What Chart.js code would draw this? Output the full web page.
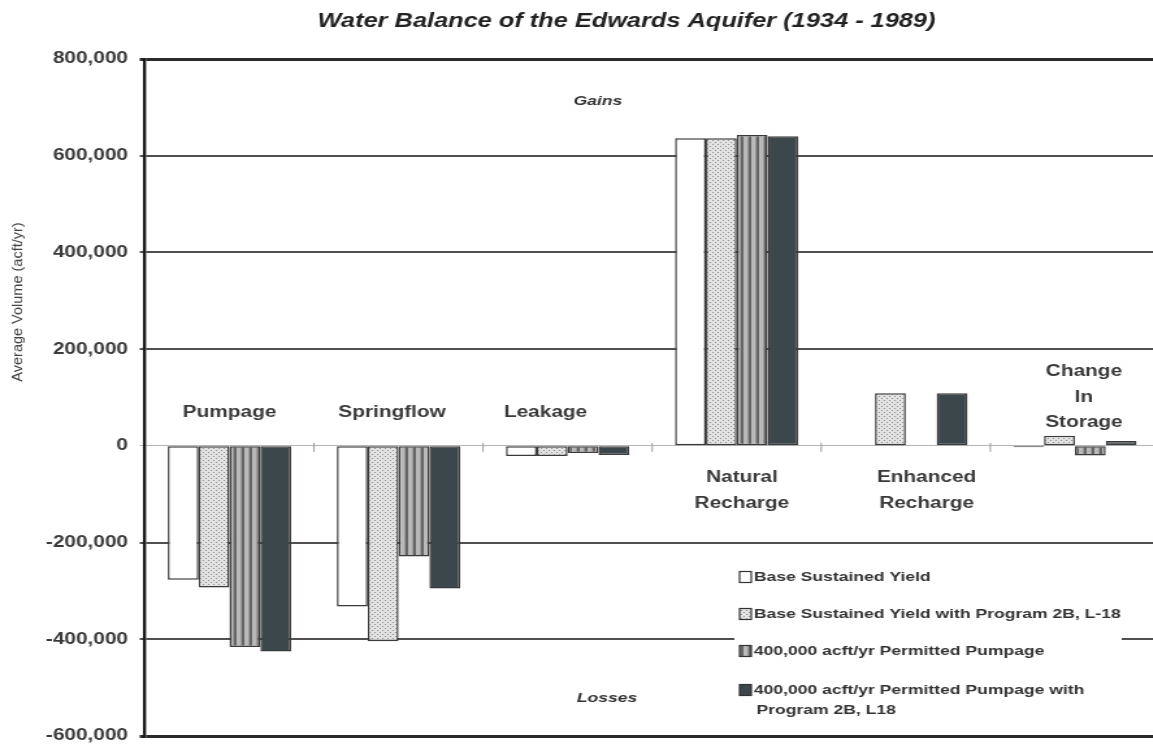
<!DOCTYPE html>
<html>
<head>
<meta charset="utf-8">
<title>Water Balance of the Edwards Aquifer (1934 - 1989)</title>
<script src="https://cdn.jsdelivr.net/npm/chart.js@4.4.1/dist/chart.umd.min.js"></script>
<style>
    html, body { margin: 0; padding: 0; overflow: hidden; background: #fff; }
    canvas { display: block; }
</style>
</head>
<body>
<!-- the source picture is stretched sideways, so the canvas is drawn narrow and widened by CSS -->
<canvas id="chart" width="894" height="747" style="width:1162px;height:747px"></canvas>
<script>
// Data (acre-feet per year)
const categories = [['Pumpage'], ['Springflow'], ['Leakage'], ['Natural', 'Recharge'], ['Enhanced', 'Recharge'], ['Change', 'In', 'Storage']];
const seriesNames = [
    'Base Sustained Yield',
    'Base Sustained Yield with Program 2B, L-18',
    '400,000 acft/yr Permitted Pumpage',
    '400,000 acft/yr Permitted Pumpage with Program 2B, L18'
];
const baseYield      = [-277000, -332000, -21000, 636000, 0,      -3000];
const baseYield2B    = [-293000, -404000, -21000, 636000, 109000, 21000];
const permitted      = [-416000, -229000, -15000, 643000, 0,      -20000];
const permitted2B    = [-425000, -295000, -19000, 640000, 109000, 10000];
const yTicks = [-600000, -400000, -200000, 0, 200000, 400000, 600000, 800000];
const legendLines = [['Base Sustained Yield'], ['Base Sustained Yield with Program 2B, L-18'],
    ['400,000 acft/yr Permitted Pumpage'], ['400,000 acft/yr Permitted Pumpage with', 'Program 2B, L18']];

// layout helpers
const SX = 1162 / 894;
const FONT = '"Liberation Sans", Arial, sans-serif';
const labelDx = [0, -5, -17, 4, 16, 7];
const labelDy = [-33, -33, -33, 32, 32, -74];
const legendRows = [577, 614, 651, 690];

const canvas = document.getElementById('chart');
const ctx2d = canvas.getContext('2d');

function makePattern(w, h, paint) {
    const c = document.createElement('canvas');
    c.width = w; c.height = h;
    paint(c.getContext('2d'));
    return ctx2d.createPattern(c, 'repeat');
}

const dotted = makePattern(4, 4, g => {
    g.fillStyle = '#e2e2e2'; g.fillRect(0, 0, 4, 4);
    g.fillStyle = '#8e8e8e'; g.fillRect(0, 0, 1, 1); g.fillRect(2, 2, 1, 1);
});
const striped = makePattern(6, 2, g => {
    g.fillStyle = '#b9b9b9'; g.fillRect(0, 0, 6, 2);
    g.fillStyle = '#666'; g.fillRect(0, 0, 2, 2);
    g.fillStyle = '#999'; g.fillRect(5, 0, 1, 2);
});
const fills = ['#ffffff', dotted, striped, '#3c474b'];

function drawText(ctx, str, x, y, font, align, color) {
    ctx.font = font;
    ctx.textAlign = align || 'center';
    ctx.textBaseline = 'middle';
    ctx.fillStyle = color || '#333';
    ctx.fillText(str, x, y);
}

const decorations = {
    id: 'decorations',
    afterDraw(chart) {
        const ctx = chart.ctx;
        const xs = chart.scales.x, ys = chart.scales.y;
        const y0 = ys.getPixelForValue(0);
        ctx.save();

        // little ticks on the zero line between categories
        ctx.strokeStyle = '#9a9a9a';
        ctx.lineWidth = 1;
        for (let i = 1; i < categories.length; i++) {
            const bx = (xs.getPixelForValue(i - 1) + xs.getPixelForValue(i)) / 2;
            ctx.beginPath(); ctx.moveTo(bx, y0 - 3); ctx.lineTo(bx, y0 + 6); ctx.stroke();
        }

        // title
        drawText(ctx, 'Water Balance of the Edwards Aquifer (1934 - 1989)', 482, 22, 'italic bold 19.5px ' + FONT, 'center', '#222');

        // y axis title (not stretched in the source)
        ctx.save();
        ctx.translate(14, 302);
        ctx.scale(1 / SX, 1);
        ctx.rotate(-Math.PI / 2);
        drawText(ctx, 'Average Volume (acft/yr)', 0, 0, '14.5px ' + FONT, 'center', '#444');
        ctx.restore();

        // category names inside the plot
        categories.forEach((lines, i) => {
            const cx = xs.getPixelForValue(i) + labelDx[i];
            lines.forEach((ln, k) => {
                drawText(ctx, ln, cx, y0 + labelDy[i] + k * 25.5, 'bold 16px ' + FONT, 'center', '#3a3a3a');
            });
        });

        drawText(ctx, 'Gains', 460, ys.getPixelForValue(713000), 'italic bold 13.5px ' + FONT, 'center', '#333');
        drawText(ctx, 'Losses', 467, ys.getPixelForValue(-523000), 'italic bold 13.5px ' + FONT, 'center', '#333');

        // legend box
        ctx.fillStyle = '#fff';
        ctx.fillRect(565, 557, 298, 168);
        chart.data.datasets.forEach((ds, i) => {
            const ry = legendRows[i];
            ctx.fillStyle = ds.backgroundColor;
            ctx.fillRect(569, ry - 5.5, 9, 11);
            ctx.strokeStyle = '#333';
            ctx.lineWidth = 1.2;
            ctx.strokeRect(569, ry - 5.5, 9, 11);
            legendLines[i].forEach((ln, k) => {
                drawText(ctx, ln, k === 0 ? 580 : 582, ry + k * 20, 'bold 13.5px ' + FONT, 'left', '#333');
            });
        });
        ctx.restore();
    }
};

function gridColor(c) {
    const v = c.tick.value;
    if (v === 0) return '#b5b5b5';
    if (v === yTicks[0] || v === yTicks[yTicks.length - 1]) return '#2a2a2a';
    return '#505050';
}
function gridWidth(c) {
    const v = c.tick.value;
    if (v === 0) return 1;
    if (v === yTicks[0] || v === yTicks[yTicks.length - 1]) return 3;
    return 2;
}

new Chart(canvas, {
    type: 'bar',
    data: {
        labels: categories,
        datasets: [baseYield, baseYield2B, permitted, permitted2B].map((vals, i) => ({
            label: seriesNames[i],
            data: vals,
            backgroundColor: fills[i],
            borderColor: '#3a3a3a',
            borderWidth: 1.5,
            borderSkipped: false,
            categoryPercentage: 0.73,
            barPercentage: 1.0
        }))
    },
    options: {
        responsive: false,
        animation: false,
        devicePixelRatio: 1,
        layout: {padding: {top: 59, bottom: 11, left: 0, right: 2}},
        plugins: {
            legend: {display: false},
            title: {display: false},
            tooltip: {enabled: false}
        },
        scales: {
            x: {display: false},
            y: {
                min: yTicks[0],
                max: yTicks[yTicks.length - 1],
                afterBuildTicks: scale => { scale.ticks = yTicks.map(v => ({value: v})); },
                afterFit: scale => {
                    scale.width = 111.5;
                    scale.paddingTop = 0;
                    scale.paddingBottom = 0;
                },
                ticks: {
                    padding: 9,
                    color: '#3a3a3a',
                    font: {family: FONT, size: 16, weight: 'bold'},
                    callback: v => v.toLocaleString('en-US')
                },
                grid: {color: gridColor, lineWidth: gridWidth, tickLength: 4},
                border: {display: true, color: '#1a1a1a', width: 2.4}
            }
        }
    },
    plugins: [decorations]
});
</script>
</body>
</html>
